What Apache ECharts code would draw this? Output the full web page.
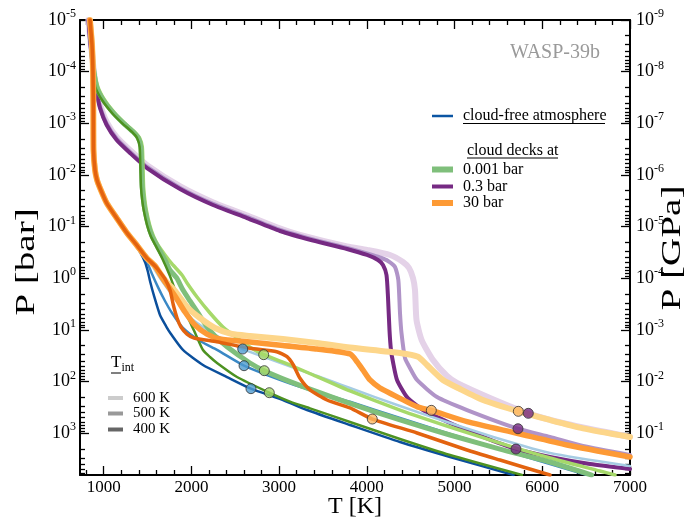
<!DOCTYPE html>
<html>
<head>
<meta charset="utf-8">
<script src="https://cdn.jsdelivr.net/npm/echarts@6.0.0/dist/echarts.min.js"></script>
<style>
html,body{margin:0;padding:0;background:#ffffff;}
#chart{width:692px;height:519px;}
</style>
</head>
<body>
<div id="chart"></div>
<script>
// ---------------- data: [temperature K, pressure bar] ----------------
// cloud-free atmosphere
const cloudFree600K = [[844,1e-5],[867,3.05e-5],[878,1.06e-4],[882,5.5e-4],[884,3.28e-3],[901,8.0e-3],[924,0.0125],[958,0.0179],[1034,0.0349],[1148,0.068],[1262,0.130],[1376,0.227],[1490,0.404],[1528,0.484],[1619,0.863],[1722,1.54],[1813,2.52],[1904,3.76],[2018,6.41],[2098,8.02],[2269,12.5],[2585,23.4],[2862,34.9],[3238,59.6],[3614,100],[3808,133],[4378,297],[4948,632],[5518,1290],[6088,2410],[7000,4310]];
const cloudFree500K = [[844,1e-5],[867,3.05e-5],[878,1.06e-4],[882,5.5e-4],[884,3.28e-3],[901,8.0e-3],[924,0.0125],[958,0.0179],[1034,0.0349],[1148,0.068],[1262,0.130],[1376,0.227],[1437,0.339],[1494,0.484],[1551,0.826],[1619,1.48],[1699,2.75],[1779,4.70],[1904,9.17],[2098,16.4],[2292,24.4],[2600,49.2],[2862,74.5],[3238,126],[3614,196],[3808,245],[4378,507],[4948,1030],[5518,2020],[6510,6430]];
const cloudFree400K = [[844,1e-5],[867,3.05e-5],[878,1.06e-4],[882,5.5e-4],[884,3.28e-3],[901,8.0e-3],[924,0.0125],[958,0.0179],[1034,0.0349],[1148,0.068],[1262,0.130],[1334,0.195],[1414,0.310],[1471,0.484],[1505,0.755],[1528,1.13],[1574,2.20],[1642,5.14],[1710,8.39],[1767,12.0],[1904,24.4],[2132,47.7],[2406,81.5],[2679,137],[3044,227],[3318,355],[3808,692],[4378,1480],[4948,2880],[5673,6430]];
// cloud deck at 0.001 bar
const deck0001bar600K = [[844,1e-5],[861,3.05e-5],[885,8.1e-5],[935,1.98e-4],[1011,3.54e-4],[1125,6.3e-4],[1239,9.9e-4],[1353,1.47e-3],[1410,1.92e-3],[1440,2.87e-3],[1448,7.0e-3],[1455,0.0171],[1469,0.0305],[1486,0.0476],[1524,0.0929],[1566,0.152],[1619,0.227],[1699,0.354],[1779,0.528],[1893,0.863],[1950,1.23],[2064,2.30],[2212,4.70],[2360,8.77],[2554,15.7],[2702,23.4],[2824,30.1],[3124,47.7],[3432,80.4],[3808,152],[4378,355],[4948,757],[5518,1550],[6088,3010],[6658,5380],[6829,6430]];
const deck0001bar500K = [[844,1e-5],[861,3.05e-5],[882,8.1e-5],[920,1.98e-4],[996,3.54e-4],[1110,6.3e-4],[1224,9.9e-4],[1338,1.47e-3],[1395,1.92e-3],[1425,2.87e-3],[1433,7.0e-3],[1440,0.0171],[1454,0.0305],[1471,0.0476],[1509,0.0929],[1551,0.152],[1604,0.227],[1699,0.443],[1756,0.692],[1832,0.986],[1904,1.69],[1984,2.75],[2075,4.70],[2178,8.65],[2269,13.1],[2406,21.1],[2668,43.6],[2831,61.5],[3124,100],[3432,157],[3808,265],[4378,553],[4948,1080],[5518,2020],[6088,3600],[6563,6430]];
const deck0001bar400K = [[844,1e-5],[861,3.05e-5],[879,8.1e-5],[905,1.98e-4],[981,3.54e-4],[1095,6.3e-4],[1209,9.9e-4],[1323,1.47e-3],[1380,1.92e-3],[1410,2.87e-3],[1418,7.0e-3],[1425,0.0171],[1439,0.0305],[1456,0.0476],[1494,0.0929],[1536,0.152],[1589,0.227],[1665,0.404],[1756,0.904],[1802,1.48],[1847,2.30],[1916,4.11],[1984,7.0],[2052,12.5],[2132,24.4],[2212,33.4],[2292,43.6],[2520,81.5],[2888,164],[3124,245],[3352,329],[3808,605],[4378,1290],[4948,2640],[5768,6430]];
// cloud deck at 0.3 bar
const deck03bar600K = [[827,1e-5],[846,2.2e-5],[871,5.3e-5],[894,1.19e-4],[916,2.02e-4],[962,4.5e-4],[1038,9.7e-4],[1152,1.88e-3],[1304,3.35e-3],[1498,6.55e-3],[1874,0.0167],[2250,0.0341],[2638,0.0609],[3014,0.109],[3238,0.145],[3774,0.243],[4002,0.283],[4264,0.354],[4412,0.484],[4481,0.633],[4526,0.986],[4549,1.69],[4566,6.41],[4625,15.7],[4754,38.2],[4914,78],[5028,106],[5404,207],[5841,411],[6282,662],[7000,1180]];
const deck03bar500K = [[827,1e-5],[845,2.4e-5],[869,5.8e-5],[892,1.27e-4],[914,2.15e-4],[960,4.8e-4],[1036,1.03e-3],[1150,2.0e-3],[1302,3.57e-3],[1496,7.0e-3],[1872,0.0178],[2248,0.0363],[2636,0.065],[3012,0.116],[3388,0.177],[3776,0.258],[4002,0.331],[4150,0.396],[4241,0.462],[4321,0.604],[4359,1.08],[4378,4.70],[4395,11.5],[4435,34.9],[4492,54.6],[4572,93],[4800,199],[5142,355],[5723,817],[6088,1180],[6464,1770],[7000,2640]];
const deck03bar400K = [[827,1e-5],[844,2.44e-5],[867,5.9e-5],[890,1.33e-4],[912,2.26e-4],[958,5.05e-4],[1034,1.08e-3],[1148,2.10e-3],[1300,3.75e-3],[1494,7.33e-3],[1870,0.0187],[2246,0.0381],[2634,0.0681],[3010,0.1215],[3386,0.1855],[3774,0.271],[4002,0.354],[4127,0.443],[4184,0.553],[4224,0.863],[4241,2.30],[4258,10.0],[4275,24.4],[4298,41.7],[4344,93],[4458,199],[4640,355],[4948,632],[5324,1180],[5700,2020],[6088,2880],[6544,3940],[7000,4920]];
// cloud deck at 30 bar
const deck30bar600K = [[844,1e-5],[867,3.05e-5],[878,1.06e-4],[882,5.5e-4],[884,3.28e-3],[901,8.0e-3],[924,0.0125],[958,0.0179],[1034,0.0349],[1148,0.068],[1262,0.130],[1376,0.227],[1490,0.404],[1585,0.578],[1699,1.08],[1824,1.85],[1961,3.76],[2098,5.87],[2269,9.17],[2463,12.0],[2668,13.1],[3044,15.0],[3432,17.9],[3808,21.9],[4378,27.9],[4583,33.0],[4686,47.7],[4868,93],[5062,139],[5324,227],[5727,376],[6088,553],[6464,802],[7000,1180]];
const deck30bar500K = [[844,1e-5],[867,3.05e-5],[878,1.06e-4],[882,5.5e-4],[884,3.28e-3],[901,8.0e-3],[924,0.0125],[958,0.0179],[1034,0.0349],[1148,0.068],[1262,0.130],[1376,0.227],[1490,0.404],[1585,0.578],[1676,1.03],[1813,2.20],[1927,4.50],[2041,8.02],[2178,12.0],[2326,15.0],[2668,17.1],[3044,20.0],[3432,23.4],[3808,29.2],[3888,41.2],[3956,59.6],[4036,93],[4150,133],[4264,168],[4572,306],[4735,360],[5142,597],[5712,1000],[6282,1690],[7000,2880]];
const deck30bar400K = [[844,1e-5],[867,3.05e-5],[878,1.06e-4],[882,5.5e-4],[884,3.28e-3],[901,8.0e-3],[924,0.0125],[958,0.0179],[1034,0.0349],[1148,0.068],[1262,0.130],[1376,0.227],[1490,0.404],[1585,0.578],[1642,0.755],[1699,1.03],[1756,1.69],[1794,3.29],[1836,5.87],[1881,8.77],[1950,12.0],[2030,14.3],[2288,16.9],[2668,22.6],[2972,26.4],[3090,33.0],[3162,47.7],[3238,86.3],[3352,145],[3546,227],[3808,324],[4062,530],[4572,989],[5142,2110],[5518,3300],[6088,6430]];
// marked points
const dotsCloudFree = [[2585,23.4],[2600,49.2],[2679,137]];
const dotsDeck0001 = [[2824,30.1],[2831,61.5],[2888,164]];
const dotsDeck30 = [[5727,376],[4735,360],[4062,530]];
const dotsDeck03Hidden = [[5841,411]];
const dotsDeck03 = [[5723,817],[5700,2020]];

// axis ticks / labels
const xTickValues = [1000,2000,3000,4000,5000,6000,7000];
const pDecades = [-5,-4,-3,-2,-1,0,1,2,3];   // log10 of P in bar
const gpaOffset = -4;                          // 1 bar = 1e-4 GPa
const tempRange = [730, 7000];
const logPRange = [-5, 3.808];

// ---------------------------------------------------------------------
const FONT = '"Liberation Serif", "Times New Roman", serif';
const xMinorValues = [];
for (let t = 800; t <= 7000; t += 200) if (t % 1000 !== 0) xMinorValues.push(t);
const yMinorValues = [];
pDecades.forEach(d => { for (let k = 2; k <= 9; k++) { const v = d + Math.log10(k); if (v < logPRange[1]) yMinorValues.push(v); } });

const toLog = arr => arr.map(p => [p[0], Math.log10(p[1])]);

function xAx(pos, values, len, main) {
  return {
    type: 'value', position: pos, min: tempRange[0], max: tempRange[1],
    axisLine: { show: main, onZero: false, lineStyle: { color: '#000', width: 2 } },
    axisTick: { show: true, inside: true, length: len, customValues: values, lineStyle: { color: '#000', width: 1.3 } },
    axisLabel: (main && pos === 'bottom') ? { show: true, customValues: values, color: '#000', fontFamily: FONT, fontSize: 17, margin: 4,
      formatter: v => String(Math.round(v)), alignMinLabel: 'center', alignMaxLabel: 'center' } : { show: false },
    splitLine: { show: false }
  };
}
function yAx(pos, values, len, main, offsetExp) {
  return {
    type: 'value', position: pos, min: logPRange[0], max: logPRange[1], inverse: true,
    axisLine: { show: main, onZero: false, lineStyle: { color: '#000', width: 2 } },
    axisTick: { show: true, inside: true, length: len, customValues: values, lineStyle: { color: '#000', width: 1.3 } },
    axisLabel: main ? {
      show: true, customValues: values, margin: pos === 'left' ? 4 : 6,
      formatter: v => '{b|10}{s|' + Math.round(v + offsetExp) + '}',
      rich: {
        b: { fontFamily: FONT, fontSize: 18, color: '#000', lineHeight: 18, verticalAlign: 'bottom' },
        s: { fontFamily: FONT, fontSize: 12, color: '#000', lineHeight: 12, padding: [0, 0, 9, 0], verticalAlign: 'bottom' }
      }
    } : { show: false },
    splitLine: { show: false }
  };
}

function line(name, data, color, width) {
  return { name, type: 'line', data: toLog(data), xAxisIndex: 0, yAxisIndex: 0, showSymbol: false, symbol: 'none',
    smooth: 0.2, clip: true, lineStyle: { color, width, cap: 'round', join: 'round' }, silent: true, z: 2 };
}
function dots(name, data, color) {
  return { name, type: 'scatter', data: toLog(data), xAxisIndex: 0, yAxisIndex: 0, symbol: 'circle', symbolSize: 10,
    itemStyle: { color, borderColor: '#333', borderWidth: 1 }, silent: true, z: 3 };
}

const series = [
  line('0.3 bar, 600 K', deck03bar600K, '#e4d2e8', 6),
  dots('0.3 bar point (600 K)', dotsDeck03Hidden, '#762a83'),
  line('0.3 bar, 500 K', deck03bar500K, '#b094c8', 4),
  line('0.3 bar, 400 K', deck03bar400K, '#762a83', 4),
  line('cloud-free, 600 K', cloudFree600K, '#a6cce3', 2.5),
  line('cloud-free, 500 K', cloudFree500K, '#3a88c5', 2.5),
  line('cloud-free, 400 K', cloudFree400K, '#0b4f9c', 2.5),
  line('0.001 bar, 600 K', deck0001bar600K, '#a6d96a', 3.5),
  line('0.001 bar, 500 K', deck0001bar500K, '#7fbf7b', 5),
  line('0.001 bar, 400 K', deck0001bar400K, '#4d9221', 2.5),
  line('30 bar, 600 K', deck30bar600K, '#fdd68a', 6),
  line('30 bar, 500 K', deck30bar500K, '#fd9a35', 5.5),
  line('30 bar, 400 K', deck30bar400K, '#e3630f', 3.5),
  dots('cloud-free points', dotsCloudFree, '#4f9bd0'),
  dots('0.001 bar points', dotsDeck0001, '#a6d96a'),
  dots('30 bar points', dotsDeck30, '#fdb863'),
  dots('0.3 bar points', dotsDeck03, '#762a83')
];
series[1].z = 2;

function legLine(x1, x2, y, color, w) {
  return { type: 'line', shape: { x1, y1: y, x2, y2: y }, style: { stroke: color, lineWidth: w }, silent: true };
}
function legText(x, y, text, size, color) {
  return { type: 'text', x, y, silent: true,
    style: { text, fontFamily: FONT, fontSize: size || 16, fill: color || '#000', align: 'left', verticalAlign: 'middle', textAlign: 'left', textVerticalAlign: 'middle' } };
}
function axisTitle(x, y, text, rot, stretch, size) {
  return { type: 'text', x, y, rotation: rot, scaleX: stretch, silent: true,
    style: { text, fontFamily: FONT, fontSize: size, fill: '#000', align: 'center', verticalAlign: 'middle', textAlign: 'center', textVerticalAlign: 'middle' } };
}

const graphic = [
  axisTitle(27, 262, 'P [bar]', Math.PI / 2, 1.45, 27),
  axisTitle(673, 248, 'P [GPa]', Math.PI / 2, 1.45, 27),
  axisTitle(355, 507, 'T [K]', 0, 1, 24),
  { type: 'text', x: 600, y: 53, silent: true, style: { text: 'WASP-39b', fontFamily: FONT, fontSize: 20, fill: '#9a9a9a', align: 'right', verticalAlign: 'middle', textAlign: 'right', textVerticalAlign: 'middle' } },
  legLine(432, 453, 116, '#0b55a3', 2.5), legText(463, 116, 'cloud-free atmosphere'),
  legLine(463, 605, 123.5, '#000', 1),
  legText(463, 151, ' cloud decks at'), legLine(467, 558, 158, '#000', 1),
  legLine(432, 453, 169.5, '#7fbf7b', 6), legText(463, 169.5, '0.001 bar'),
  legLine(432, 453, 186.5, '#762a83', 4), legText(463, 186.5, '0.3 bar'),
  legLine(432, 453, 203, '#fd9a35', 6), legText(463, 203, '30 bar'),
  { type: 'text', x: 111, y: 363, silent: true, style: { text: '{t|T}{i|int}', fontFamily: FONT, fill: '#000', align: 'left', verticalAlign: 'middle',
      rich: { t: { fontFamily: FONT, fontSize: 17, lineHeight: 17, verticalAlign: 'top' }, i: { fontFamily: FONT, fontSize: 12, lineHeight: 12, padding: [7, 0, 0, 0], verticalAlign: 'top' } } } },
  legLine(111, 121, 373, '#000', 1),
  legLine(108, 123, 398, '#cccccc', 4), legText(133, 398, '600 K', 15),
  legLine(108, 123, 413.5, '#999999', 4), legText(133, 413.5, '500 K', 15),
  legLine(108, 123, 429.5, '#666666', 4), legText(133, 429.5, '400 K', 15)
];

const chart = echarts.init(document.getElementById('chart'), null, { renderer: 'canvas' });
chart.setOption({
  animation: false,
  backgroundColor: '#ffffff',
  grid: { left: 80, right: 62, top: 20, bottom: 44, containLabel: false, outerBoundsMode: 'none' },
  xAxis: [
    xAx('bottom', xTickValues, 9, true),
    xAx('bottom', xMinorValues, 5, false),
    xAx('top', xTickValues, 9, true),
    xAx('top', xMinorValues, 5, false)
  ],
  yAxis: [
    yAx('left', pDecades, 9, true, 0),
    yAx('left', yMinorValues, 5, false, 0),
    yAx('right', pDecades, 9, true, gpaOffset),
    yAx('right', yMinorValues, 5, false, gpaOffset)
  ],
  series,
  graphic
});
</script>
</body>
</html>
